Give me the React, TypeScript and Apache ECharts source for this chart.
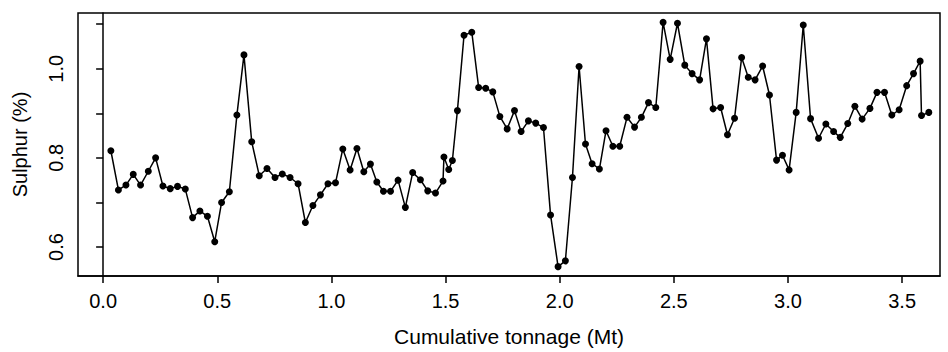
import React, { useEffect, useRef } from "react";
import * as echarts from "echarts";

const tonnage = [
  0.034, 0.067, 0.1, 0.132, 0.164, 0.198, 0.23, 0.262, 0.294, 0.326,
  0.36, 0.392, 0.424, 0.457, 0.489, 0.519, 0.553, 0.586, 0.617, 0.651,
  0.684, 0.718, 0.753, 0.785, 0.819, 0.854, 0.886, 0.919, 0.952, 0.985,
  1.018, 1.05, 1.082, 1.112, 1.142, 1.171, 1.199, 1.228, 1.259, 1.292,
  1.324, 1.356, 1.39, 1.422, 1.456, 1.489, 1.493, 1.514, 1.53, 1.552,
  1.581, 1.615, 1.645, 1.676, 1.707, 1.738, 1.77, 1.802, 1.831, 1.863,
  1.895, 1.929, 1.96, 1.993, 2.025, 2.056, 2.085, 2.113, 2.142, 2.174,
  2.203, 2.233, 2.263, 2.295, 2.328, 2.358, 2.389, 2.421, 2.453, 2.484,
  2.516, 2.548, 2.58, 2.613, 2.643, 2.672, 2.705, 2.735, 2.766, 2.797,
  2.826, 2.856, 2.889, 2.919, 2.95, 2.976, 3.005, 3.036, 3.067, 3.099,
  3.134, 3.166, 3.2, 3.229, 3.262, 3.293, 3.325, 3.359, 3.39, 3.423,
  3.455, 3.487, 3.52, 3.55, 3.579, 3.585, 3.617,
];

const sulphur = [
  0.816, 0.728, 0.739, 0.763, 0.739, 0.77, 0.8, 0.737, 0.731, 0.736,
  0.73, 0.666, 0.681, 0.669, 0.612, 0.7, 0.724, 0.896, 1.031, 0.836,
  0.76, 0.776, 0.756, 0.764, 0.756, 0.742, 0.655, 0.693, 0.717, 0.742,
  0.744, 0.82, 0.773, 0.821, 0.769, 0.786, 0.746, 0.725, 0.725, 0.75,
  0.689, 0.767, 0.751, 0.726, 0.721, 0.748, 0.802, 0.774, 0.794, 0.906,
  1.075, 1.082, 0.958, 0.956, 0.948, 0.893, 0.865, 0.906, 0.859, 0.883,
  0.878, 0.868, 0.672, 0.556, 0.569, 0.756, 1.005, 0.831, 0.787, 0.775,
  0.861, 0.826, 0.826, 0.891, 0.869, 0.891, 0.924, 0.913, 1.104, 1.021,
  1.102, 1.008, 0.989, 0.975, 1.067, 0.91, 0.913, 0.852, 0.889, 1.025,
  0.981, 0.975, 1.006, 0.941, 0.795, 0.806, 0.773, 0.902, 1.098, 0.888,
  0.844, 0.876, 0.859, 0.846, 0.877, 0.916, 0.887, 0.911, 0.947, 0.947,
  0.896, 0.908, 0.962, 0.989, 1.017, 0.895, 0.902,
];

const xTickValues = [0, 0.5, 1.0, 1.5, 2.0, 2.5, 3.0, 3.5];
const yTickValues = [0.6, 0.7, 0.8, 0.9, 1.0, 1.1];
const yLabelValues = [0.6, 0.8, 1.0];

const xTitle = "Cumulative tonnage (Mt)";
const yTitle = "Sulphur (%)";

const FONT = "'Liberation Sans', Arial, Helvetica, sans-serif";

export default function App() {
  const ref = useRef<HTMLDivElement>(null);

  useEffect(() => {
    if (!ref.current) return;
    const chart = echarts.init(ref.current, undefined, { renderer: "svg" });
    const points = tonnage.map((t, i) => [t, sulphur[i]]);
    chart.setOption({
      animation: false,
      backgroundColor: "#fff",
      grid: {
        left: 78,
        right: 8,
        top: 13,
        bottom: 73,
        show: true,
        borderColor: "#000",
        borderWidth: 1.5,
        containLabel: false,
      },
      xAxis: {
        type: "value",
        min: -0.11,
        max: 3.666,
        name: xTitle,
        nameLocation: "middle",
        nameGap: 50,
        nameTextStyle: { color: "#000", fontSize: 21, fontFamily: FONT },
        axisLine: { show: true, lineStyle: { color: "#000", width: 1.5 } },
        axisTick: {
          show: true,
          length: 7,
          inside: false,
          customValues: xTickValues,
          lineStyle: { color: "#000", width: 1.5 },
        },
        axisLabel: {
          show: true,
          customValues: xTickValues,
          margin: 15,
          color: "#000",
          fontSize: 20,
          fontFamily: FONT,
          formatter: (v: number) => v.toFixed(1),
        },
        splitLine: { show: false },
      },
      yAxis: {
        type: "value",
        min: 0.535,
        max: 1.125,
        name: yTitle,
        nameLocation: "middle",
        nameRotate: 90,
        nameGap: 48,
        nameTextStyle: { color: "#000", fontSize: 20, fontFamily: FONT },
        axisLine: { show: true, lineStyle: { color: "#000", width: 1.5 } },
        axisTick: {
          show: true,
          length: 7,
          inside: false,
          customValues: yTickValues,
          lineStyle: { color: "#000", width: 1.5 },
        },
        axisLabel: {
          show: true,
          customValues: yLabelValues,
          rotate: 90,
          margin: 12,
          color: "#000",
          fontSize: 20,
          fontFamily: FONT,
          formatter: (v: number) => v.toFixed(1),
        },
        splitLine: { show: false },
      },
      series: [
        {
          type: "line",
          data: points,
          symbol: "circle",
          symbolSize: 7,
          showSymbol: true,
          lineStyle: { color: "#000", width: 1.5 },
          itemStyle: { color: "#000" },
          emphasis: { disabled: true },
        },
      ],
    });
    return () => chart.dispose();
  }, []);

  return (
    <div
      ref={ref}
      style={{ position: "absolute", left: 0, top: 0, width: 948, height: 352 }}
    />
  );
}
